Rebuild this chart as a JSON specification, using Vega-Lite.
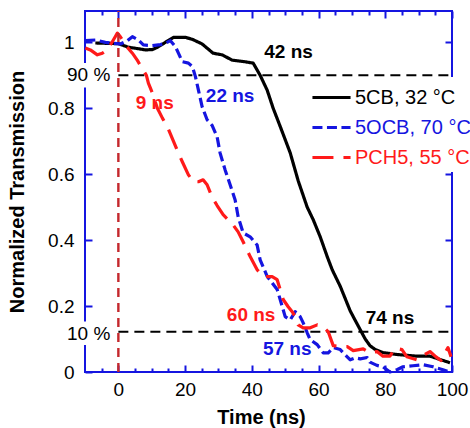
{
  "$schema": "https://vega.github.io/schema/vega-lite/v6.json",
  "width": 367,
  "height": 361,
  "autosize": {"type": "none"},
  "padding": {"left": 85, "top": 11, "right": 18, "bottom": 56},
  "background": "white",
  "config": {
    "view": {"stroke": "#1515e0", "strokeWidth": 2},
    "font": "Liberation Sans",
    "axis": {"labelFont": "Liberation Sans", "titleFont": "Liberation Sans", "labelColor": "black", "titleColor": "black", "tickColor": "#1515e0", "tickWidth": 2, "domain": false, "grid": false}
  },
  "datasets": {
    "curves": [
      {"series": "5CB, 32 °C", "t": -6.9, "v": 0.998}, {"series": "5CB, 32 °C", "t": -3.9, "v": 0.997}, {"series": "5CB, 32 °C", "t": 0, "v": 0.996}, {"series": "5CB, 32 °C", "t": 3, "v": 0.985}, {"series": "5CB, 32 °C", "t": 5.1, "v": 0.982}, {"series": "5CB, 32 °C", "t": 8.1, "v": 0.977}, {"series": "5CB, 32 °C", "t": 10.2, "v": 0.978}, {"series": "5CB, 32 °C", "t": 11.7, "v": 0.985}, {"series": "5CB, 32 °C", "t": 14.1, "v": 1.0}, {"series": "5CB, 32 °C", "t": 16.5, "v": 1.015}, {"series": "5CB, 32 °C", "t": 20.1, "v": 1.015}, {"series": "5CB, 32 °C", "t": 22.2, "v": 1.009}, {"series": "5CB, 32 °C", "t": 25.1, "v": 0.995}, {"series": "5CB, 32 °C", "t": 28.4, "v": 0.967}, {"series": "5CB, 32 °C", "t": 31.1, "v": 0.962}, {"series": "5CB, 32 °C", "t": 34.1, "v": 0.946}, {"series": "5CB, 32 °C", "t": 38, "v": 0.941}, {"series": "5CB, 32 °C", "t": 40.4, "v": 0.937}, {"series": "5CB, 32 °C", "t": 42.5, "v": 0.9}, {"series": "5CB, 32 °C", "t": 44.6, "v": 0.855}, {"series": "5CB, 32 °C", "t": 46.4, "v": 0.8}, {"series": "5CB, 32 °C", "t": 48.5, "v": 0.745}, {"series": "5CB, 32 °C", "t": 51.5, "v": 0.665}, {"series": "5CB, 32 °C", "t": 53.9, "v": 0.58}, {"series": "5CB, 32 °C", "t": 56.6, "v": 0.5}, {"series": "5CB, 32 °C", "t": 58.4, "v": 0.462}, {"series": "5CB, 32 °C", "t": 60.5, "v": 0.41}, {"series": "5CB, 32 °C", "t": 62.6, "v": 0.35}, {"series": "5CB, 32 °C", "t": 64.1, "v": 0.31}, {"series": "5CB, 32 °C", "t": 66.5, "v": 0.26}, {"series": "5CB, 32 °C", "t": 69.5, "v": 0.185}, {"series": "5CB, 32 °C", "t": 72.5, "v": 0.128}, {"series": "5CB, 32 °C", "t": 74, "v": 0.1}, {"series": "5CB, 32 °C", "t": 75.4, "v": 0.08}, {"series": "5CB, 32 °C", "t": 77, "v": 0.068}, {"series": "5CB, 32 °C", "t": 79.3, "v": 0.059}, {"series": "5CB, 32 °C", "t": 83.5, "v": 0.053}, {"series": "5CB, 32 °C", "t": 89.5, "v": 0.048}, {"series": "5CB, 32 °C", "t": 93.4, "v": 0.048}, {"series": "5CB, 32 °C", "t": 96.4, "v": 0.038}, {"series": "5CB, 32 °C", "t": 99.4, "v": 0.028},
      {"series": "5OCB, 70 °C", "t": -9.9, "v": 1.005}, {"series": "5OCB, 70 °C", "t": -6.9, "v": 1.007}, {"series": "5OCB, 70 °C", "t": -3.9, "v": 1.0}, {"series": "5OCB, 70 °C", "t": -1.8, "v": 0.997}, {"series": "5OCB, 70 °C", "t": 0.6, "v": 0.995}, {"series": "5OCB, 70 °C", "t": 2.7, "v": 1.005}, {"series": "5OCB, 70 °C", "t": 4.2, "v": 1.017}, {"series": "5OCB, 70 °C", "t": 6, "v": 1.007}, {"series": "5OCB, 70 °C", "t": 7.5, "v": 0.992}, {"series": "5OCB, 70 °C", "t": 10.2, "v": 0.99}, {"series": "5OCB, 70 °C", "t": 12.6, "v": 0.993}, {"series": "5OCB, 70 °C", "t": 14.1, "v": 0.997}, {"series": "5OCB, 70 °C", "t": 15.6, "v": 1.005}, {"series": "5OCB, 70 °C", "t": 17.1, "v": 0.987}, {"series": "5OCB, 70 °C", "t": 18, "v": 0.967}, {"series": "5OCB, 70 °C", "t": 19.2, "v": 0.941}, {"series": "5OCB, 70 °C", "t": 21, "v": 0.937}, {"series": "5OCB, 70 °C", "t": 22.2, "v": 0.926}, {"series": "5OCB, 70 °C", "t": 23.1, "v": 0.896}, {"series": "5OCB, 70 °C", "t": 24, "v": 0.855}, {"series": "5OCB, 70 °C", "t": 25.1, "v": 0.805}, {"series": "5OCB, 70 °C", "t": 26.6, "v": 0.765}, {"series": "5OCB, 70 °C", "t": 28.1, "v": 0.748}, {"series": "5OCB, 70 °C", "t": 29.6, "v": 0.713}, {"series": "5OCB, 70 °C", "t": 30.5, "v": 0.664}, {"series": "5OCB, 70 °C", "t": 32, "v": 0.613}, {"series": "5OCB, 70 °C", "t": 33.5, "v": 0.568}, {"series": "5OCB, 70 °C", "t": 35, "v": 0.522}, {"series": "5OCB, 70 °C", "t": 35.9, "v": 0.471}, {"series": "5OCB, 70 °C", "t": 37.4, "v": 0.422}, {"series": "5OCB, 70 °C", "t": 39.5, "v": 0.41}, {"series": "5OCB, 70 °C", "t": 41.6, "v": 0.385}, {"series": "5OCB, 70 °C", "t": 42.5, "v": 0.34}, {"series": "5OCB, 70 °C", "t": 44.6, "v": 0.29}, {"series": "5OCB, 70 °C", "t": 46.1, "v": 0.27}, {"series": "5OCB, 70 °C", "t": 47.6, "v": 0.25}, {"series": "5OCB, 70 °C", "t": 48.5, "v": 0.22}, {"series": "5OCB, 70 °C", "t": 50, "v": 0.168}, {"series": "5OCB, 70 °C", "t": 51.5, "v": 0.158}, {"series": "5OCB, 70 °C", "t": 53, "v": 0.183}, {"series": "5OCB, 70 °C", "t": 54.5, "v": 0.168}, {"series": "5OCB, 70 °C", "t": 55.4, "v": 0.149}, {"series": "5OCB, 70 °C", "t": 56.6, "v": 0.119}, {"series": "5OCB, 70 °C", "t": 57.5, "v": 0.098}, {"series": "5OCB, 70 °C", "t": 59.6, "v": 0.083}, {"series": "5OCB, 70 °C", "t": 61.4, "v": 0.058}, {"series": "5OCB, 70 °C", "t": 62.9, "v": 0.058}, {"series": "5OCB, 70 °C", "t": 64.4, "v": 0.074}, {"series": "5OCB, 70 °C", "t": 66.5, "v": 0.068}, {"series": "5OCB, 70 °C", "t": 68, "v": 0.052}, {"series": "5OCB, 70 °C", "t": 69.5, "v": 0.037}, {"series": "5OCB, 70 °C", "t": 71, "v": 0.043}, {"series": "5OCB, 70 °C", "t": 72.5, "v": 0.04}, {"series": "5OCB, 70 °C", "t": 74.6, "v": 0.044}, {"series": "5OCB, 70 °C", "t": 75.4, "v": 0.03}, {"series": "5OCB, 70 °C", "t": 77.5, "v": 0.02}, {"series": "5OCB, 70 °C", "t": 79.3, "v": 0.016}, {"series": "5OCB, 70 °C", "t": 81.4, "v": 0.0}, {"series": "5OCB, 70 °C", "t": 83.5, "v": 0.007}, {"series": "5OCB, 70 °C", "t": 85.3, "v": 0.016}, {"series": "5OCB, 70 °C", "t": 88.3, "v": 0.019}, {"series": "5OCB, 70 °C", "t": 91.3, "v": 0.022}, {"series": "5OCB, 70 °C", "t": 94.3, "v": 0.016}, {"series": "5OCB, 70 °C", "t": 97.3, "v": 0.007}, {"series": "5OCB, 70 °C", "t": 99.4, "v": 0.0},
      {"series": "PCH5, 55 °C", "t": -9.9, "v": 0.983}, {"series": "PCH5, 55 °C", "t": -8.4, "v": 0.977}, {"series": "PCH5, 55 °C", "t": -6.3, "v": 0.962}, {"series": "PCH5, 55 °C", "t": -4.8, "v": 0.967}, {"series": "PCH5, 55 °C", "t": -3.3, "v": 0.977}, {"series": "PCH5, 55 °C", "t": -1.5, "v": 1.007}, {"series": "PCH5, 55 °C", "t": -0.3, "v": 1.028}, {"series": "PCH5, 55 °C", "t": 0.6, "v": 1.017}, {"series": "PCH5, 55 °C", "t": 2.1, "v": 0.992}, {"series": "PCH5, 55 °C", "t": 4.2, "v": 0.967}, {"series": "PCH5, 55 °C", "t": 5.7, "v": 0.945}, {"series": "PCH5, 55 °C", "t": 7.2, "v": 0.92}, {"series": "PCH5, 55 °C", "t": 8.4, "v": 0.9}, {"series": "PCH5, 55 °C", "t": 9, "v": 0.876}, {"series": "PCH5, 55 °C", "t": 10.2, "v": 0.846}, {"series": "PCH5, 55 °C", "t": 11.7, "v": 0.8}, {"series": "PCH5, 55 °C", "t": 13.2, "v": 0.77}, {"series": "PCH5, 55 °C", "t": 14.7, "v": 0.744}, {"series": "PCH5, 55 °C", "t": 16.5, "v": 0.7}, {"series": "PCH5, 55 °C", "t": 18, "v": 0.664}, {"series": "PCH5, 55 °C", "t": 19.2, "v": 0.637}, {"series": "PCH5, 55 °C", "t": 21, "v": 0.598}, {"series": "PCH5, 55 °C", "t": 22.5, "v": 0.577}, {"series": "PCH5, 55 °C", "t": 24, "v": 0.577}, {"series": "PCH5, 55 °C", "t": 25.4, "v": 0.583}, {"series": "PCH5, 55 °C", "t": 26.6, "v": 0.568}, {"series": "PCH5, 55 °C", "t": 28.1, "v": 0.53}, {"series": "PCH5, 55 °C", "t": 29.6, "v": 0.505}, {"series": "PCH5, 55 °C", "t": 31.4, "v": 0.477}, {"series": "PCH5, 55 °C", "t": 34.4, "v": 0.446}, {"series": "PCH5, 55 °C", "t": 35.9, "v": 0.425}, {"series": "PCH5, 55 °C", "t": 37.4, "v": 0.395}, {"series": "PCH5, 55 °C", "t": 39.5, "v": 0.35}, {"series": "PCH5, 55 °C", "t": 41.6, "v": 0.31}, {"series": "PCH5, 55 °C", "t": 43.4, "v": 0.289}, {"series": "PCH5, 55 °C", "t": 46.1, "v": 0.289}, {"series": "PCH5, 55 °C", "t": 47.6, "v": 0.28}, {"series": "PCH5, 55 °C", "t": 48.5, "v": 0.25}, {"series": "PCH5, 55 °C", "t": 49.4, "v": 0.22}, {"series": "PCH5, 55 °C", "t": 50.9, "v": 0.198}, {"series": "PCH5, 55 °C", "t": 52.1, "v": 0.183}, {"series": "PCH5, 55 °C", "t": 53, "v": 0.168}, {"series": "PCH5, 55 °C", "t": 53.9, "v": 0.143}, {"series": "PCH5, 55 °C", "t": 55.4, "v": 0.134}, {"series": "PCH5, 55 °C", "t": 57.5, "v": 0.134}, {"series": "PCH5, 55 °C", "t": 59.6, "v": 0.143}, {"series": "PCH5, 55 °C", "t": 61.4, "v": 0.137}, {"series": "PCH5, 55 °C", "t": 62.9, "v": 0.122}, {"series": "PCH5, 55 °C", "t": 64.4, "v": 0.08}, {"series": "PCH5, 55 °C", "t": 66.5, "v": 0.077}, {"series": "PCH5, 55 °C", "t": 68.6, "v": 0.077}, {"series": "PCH5, 55 °C", "t": 70.4, "v": 0.065}, {"series": "PCH5, 55 °C", "t": 73.4, "v": 0.07}, {"series": "PCH5, 55 °C", "t": 75.4, "v": 0.058}, {"series": "PCH5, 55 °C", "t": 77.5, "v": 0.062}, {"series": "PCH5, 55 °C", "t": 79.3, "v": 0.048}, {"series": "PCH5, 55 °C", "t": 81.4, "v": 0.048}, {"series": "PCH5, 55 °C", "t": 82.9, "v": 0.072}, {"series": "PCH5, 55 °C", "t": 85, "v": 0.068}, {"series": "PCH5, 55 °C", "t": 86.5, "v": 0.046}, {"series": "PCH5, 55 °C", "t": 89.5, "v": 0.037}, {"series": "PCH5, 55 °C", "t": 91.3, "v": 0.05}, {"series": "PCH5, 55 °C", "t": 93.4, "v": 0.062}, {"series": "PCH5, 55 °C", "t": 95.2, "v": 0.046}, {"series": "PCH5, 55 °C", "t": 96.7, "v": 0.035}, {"series": "PCH5, 55 °C", "t": 97.9, "v": 0.058}, {"series": "PCH5, 55 °C", "t": 98.8, "v": 0.074}, {"series": "PCH5, 55 °C", "t": 99.7, "v": 0.046}
    ],
    "levels": [{"level": 0.9, "label": "90 %", "t": -2.4, "v": 0.883, "x1": -16.5, "x2": -3, "y1": 0.863, "y2": 0.937}, {"level": 0.122, "label": "10 %", "t": -2.4, "v": 0.098, "x1": -16.5, "x2": -3, "y1": 0.082, "y2": 0.153}],
    "notes": [
      {"label": "42 ns", "series": "5CB, 32 °C", "t": 51, "v": 0.951},
      {"label": "22 ns", "series": "5OCB, 70 °C", "t": 33.5, "v": 0.82},
      {"label": "9 ns", "series": "PCH5, 55 °C", "t": 10.9, "v": 0.797},
      {"label": "60 ns", "series": "PCH5, 55 °C", "t": 39.8, "v": 0.155},
      {"label": "57 ns", "series": "5OCB, 70 °C", "t": 50.6, "v": 0.052},
      {"label": "74 ns", "series": "5CB, 32 °C", "t": 81.4, "v": 0.145}
    ]
  },
  "resolve": {"axis": {"x": "independent", "y": "independent"}},
  "layer": [
    {
      "data": {"name": "levels"},
      "mark": {"type": "rule", "color": "black", "strokeWidth": 2, "strokeDash": [10, 6]},
      "encoding": {
        "x": {"datum": 0, "type": "quantitative", "scale": {"domain": [-10, 100], "nice": false, "zero": false},
          "axis": {"orient": "top", "title": null, "labels": false, "values": [-5, 0, 5, 10, 15, 20, 25, 30, 35, 40, 45, 50, 55, 60, 65, 70, 75, 80, 85, 90, 95, 100],
            "tickSize": {"condition": {"test": "datum.value % 20 === 0", "value": -7}, "value": -4}}},
        "x2": {"datum": 100},
        "y": {"field": "level", "type": "quantitative", "scale": {"domain": [0, 1.095], "nice": false, "zero": false},
          "axis": {"orient": "right", "title": null, "labels": false, "values": [0.2, 0.4, 0.6, 0.8, 1], "tickSize": -7}}
      }
    },
    {
      "data": {"name": "curves"},
      "mark": {"type": "line", "strokeCap": "butt", "strokeJoin": "round", "strokeWidth": 3.2},
      "encoding": {
        "x": {"field": "t", "type": "quantitative",
          "axis": {"orient": "bottom", "title": "Time (ns)", "titleFontSize": 20, "titleFontWeight": "bold", "titlePadding": 5, "titleX": 176,
            "values": [-5, 0, 5, 10, 15, 20, 25, 30, 35, 40, 45, 50, 55, 60, 65, 70, 75, 80, 85, 90, 95, 100],
            "labelExpr": "datum.value % 20 === 0 ? datum.value : ''", "labelFontSize": 19, "labelPadding": 15, "labelFlush": false, "labelOverlap": false,
            "tickSize": {"condition": {"test": "datum.value % 20 === 0", "value": -7}, "value": -4}}},
        "y": {"field": "v", "type": "quantitative",
          "axis": {"orient": "left", "title": "Normalized Transmission", "titleFontSize": 20, "titleFontWeight": "bold", "titlePadding": 20,
            "values": [0, 0.2, 0.4, 0.6, 0.8, 1], "labelExpr": "'' + datum.value", "labelFontSize": 19, "labelPadding": 18, "labelFlush": false, "labelOverlap": false, "tickSize": -7}},
        "color": {"field": "series", "type": "nominal",
          "scale": {"domain": ["5CB, 32 °C", "5OCB, 70 °C", "PCH5, 55 °C"], "range": ["#000000", "#1515e0", "#ff1a1a"]},
          "legend": {"orient": "none", "legendX": 226, "legendY": 66, "title": null, "fillColor": "white", "padding": 4, "symbolType": "M-1.27,0H1.27", "symbolSize": 900, "symbolStrokeWidth": 3, "labelFont": "Liberation Sans", "labelFontSize": 20, "labelLimit": 0, "labelOffset": 7, "rowPadding": 3, "zindex": 2,
            "encode": {"labels": {"update": {"fill": {"signal": "datum.value === '5CB, 32 °C' ? '#000000' : datum.value === '5OCB, 70 °C' ? '#1515e0' : '#ff1a1a'"}}}}}},
        "strokeDash": {"field": "series", "type": "nominal",
          "scale": {"domain": ["5CB, 32 °C", "5OCB, 70 °C", "PCH5, 55 °C"], "range": [[1, 0], [10, 4.5], [21, 10]]},
          "legend": {"orient": "none", "legendX": 226, "legendY": 66, "title": null, "fillColor": "white", "padding": 4, "symbolType": "M-1.27,0H1.27", "symbolSize": 900, "symbolStrokeWidth": 3, "labelFont": "Liberation Sans", "labelFontSize": 20, "labelLimit": 0, "labelOffset": 7, "rowPadding": 3, "zindex": 2}}
      }
    },
    {
      "data": {"values": [{"x": 0}]},
      "mark": {"type": "rule", "color": "#c4282c", "strokeWidth": 2.4, "strokeDash": [9, 6]},
      "encoding": {
        "x": {"field": "x", "type": "quantitative", "axis": null},
        "y": {"datum": 0, "type": "quantitative", "axis": null},
        "y2": {"datum": 1.095}
      }
    },
    {
      "data": {"name": "levels"},
      "mark": {"type": "rect", "color": "white"},
      "encoding": {
        "x": {"field": "x1", "type": "quantitative", "axis": null},
        "x2": {"field": "x2"},
        "y": {"field": "y1", "type": "quantitative", "axis": null},
        "y2": {"field": "y2"}
      }
    },
    {
      "data": {"name": "levels"},
      "mark": {"type": "text", "align": "right", "baseline": "alphabetic", "font": "Liberation Sans", "fontSize": 19, "color": "black"},
      "encoding": {
        "x": {"field": "t", "type": "quantitative", "axis": null},
        "y": {"field": "v", "type": "quantitative", "axis": null},
        "text": {"field": "label"}
      }
    },
    {
      "data": {"name": "notes"},
      "mark": {"type": "text", "align": "center", "baseline": "alphabetic", "font": "Liberation Sans", "fontSize": 19, "fontWeight": "bold"},
      "encoding": {
        "x": {"field": "t", "type": "quantitative", "axis": null},
        "y": {"field": "v", "type": "quantitative", "axis": null},
        "text": {"field": "label"},
        "fill": {"field": "series", "type": "nominal", "scale": {"domain": ["5CB, 32 °C", "5OCB, 70 °C", "PCH5, 55 °C"], "range": ["#000000", "#1515e0", "#ff1a1a"]}, "legend": null}
      }
    }
  ]
}
